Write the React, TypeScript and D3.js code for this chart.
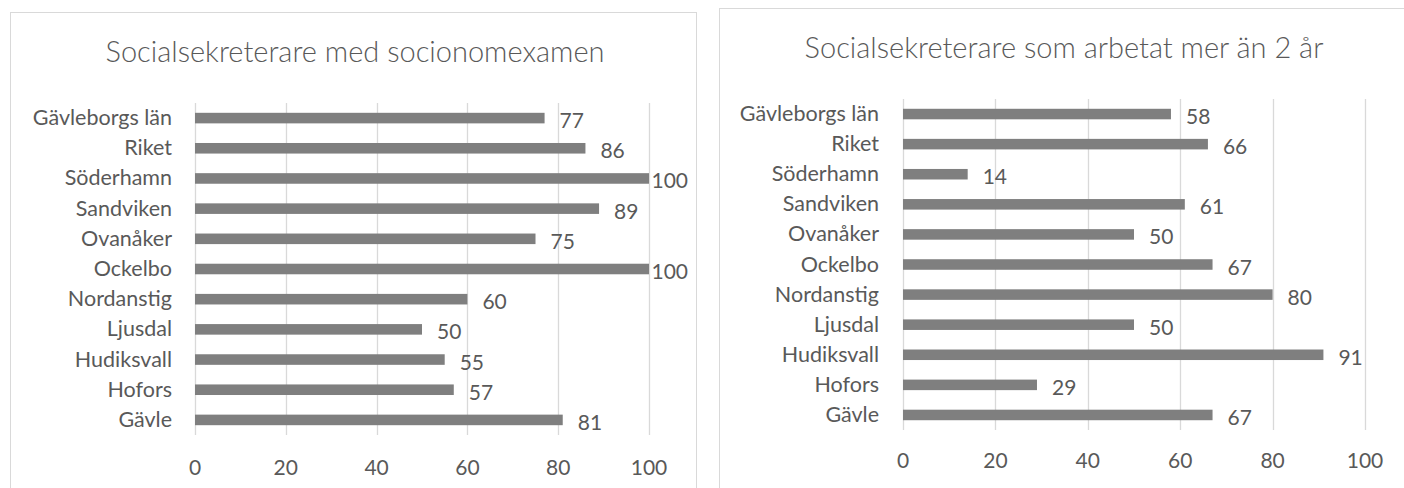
import React, { useEffect, useRef } from 'react';
import * as d3 from 'd3';

// categories, top to bottom as they appear in the chart
const categories = [
  'Gävleborgs län',
  'Riket',
  'Söderhamn',
  'Sandviken',
  'Ovanåker',
  'Ockelbo',
  'Nordanstig',
  'Ljusdal',
  'Hudiksvall',
  'Hofors',
  'Gävle',
];

const socionomexamen = [77, 86, 100, 89, 75, 100, 60, 50, 55, 57, 81];
const merAn2Ar = [58, 66, 14, 61, 50, 67, 80, 50, 91, 29, 67];

const xTicks = [0, 20, 40, 60, 80, 100];

const titles = [
  'Socialsekreterare med socionomexamen',
  'Socialsekreterare som arbetat mer än 2 år',
];

const FONT = 'Lato, "Open Sans", sans-serif';
const TEXT = '#595959';
const GRID = '#d9d9d9';
const BAR = '#7f7f7f';

type Panel = {
  box: [number, number, number, number];
  title: string;
  titleX: number;
  titleY: number;
  values: number[];
  xRange: [number, number];
  yRange: [number, number];
  catX: number;
  tickY: number;
  labelLimit: number;
};

const panels: Panel[] = [
  {
    box: [10.5, 12.5, 686, 500],
    title: titles[0],
    titleX: 355,
    titleY: 62,
    values: socionomexamen,
    xRange: [195, 649],
    yRange: [103, 435],
    catX: 172,
    tickY: 475,
    labelLimit: 688,
  },
  {
    box: [719.5, 8.5, 700, 500],
    title: titles[1],
    titleX: 1064,
    titleY: 58,
    values: merAn2Ar,
    xRange: [903, 1365],
    yRange: [99, 430],
    catX: 879,
    tickY: 468,
    labelLimit: 1400,
  },
];

const App = () => {
  const ref = useRef<SVGSVGElement>(null);

  useEffect(() => {
    const svg = d3.select(ref.current);
    svg.selectAll('*').remove();

    panels.forEach(p => {
      const g = svg
        .append('g')
        .attr('font-family', FONT)
        .attr('fill', TEXT);

      // chart area border
      g.append('rect')
        .attr('x', p.box[0])
        .attr('y', p.box[1])
        .attr('width', p.box[2])
        .attr('height', p.box[3])
        .attr('fill', '#fff')
        .attr('stroke', GRID)
        .attr('stroke-width', 1);

      g.append('text')
        .attr('x', p.titleX)
        .attr('y', p.titleY)
        .attr('text-anchor', 'middle')
        .attr('font-weight', 300)
        .attr('font-size', 29)
        .text(p.title);

      const x = d3.scaleLinear().domain([0, 100]).range(p.xRange);
      const y = d3
        .scaleBand()
        .domain(categories)
        .range(p.yRange)
        .paddingInner(0.65)
        .paddingOuter(0.325);

      // gridlines
      g.selectAll('line.grid')
        .data(xTicks)
        .join('line')
        .attr('class', 'grid')
        .attr('x1', d => Math.round(x(d)) + 0.5)
        .attr('x2', d => Math.round(x(d)) + 0.5)
        .attr('y1', p.yRange[0])
        .attr('y2', p.yRange[1])
        .attr('stroke', GRID)
        .attr('stroke-width', 1.3);

      // tick labels
      g.selectAll('text.tick')
        .data(xTicks)
        .join('text')
        .attr('class', 'tick')
        .attr('x', d => x(d))
        .attr('y', p.tickY)
        .attr('text-anchor', 'middle')
        .attr('font-size', 21)
        .text(d => d);

      // category labels
      g.selectAll('text.cat')
        .data(categories)
        .join('text')
        .attr('class', 'cat')
        .attr('x', p.catX)
        .attr('y', d => (y(d) as number) + y.bandwidth() / 2 + 7)
        .attr('text-anchor', 'end')
        .attr('font-size', 21.5)
        .text(d => d);

      // bars
      g.selectAll('rect.bar')
        .data(p.values)
        .join('rect')
        .attr('class', 'bar')
        .attr('x', x(0))
        .attr('y', (_, i) => y(categories[i]) as number)
        .attr('width', d => x(d) - x(0))
        .attr('height', y.bandwidth())
        .attr('fill', BAR);

      // value labels, pulled back inside the chart area when they would overflow
      g.selectAll('text.val')
        .data(p.values)
        .join('text')
        .attr('class', 'val')
        .attr('x', d => x(d) + 15)
        .attr('y', (_, i) => (y(categories[i]) as number) + y.bandwidth() / 2 + 10)
        .attr('font-size', 21)
        .text(d => d)
        .each(function (d) {
          const node = this as SVGTextElement;
          const w = node.getComputedTextLength();
          if (x(d) + 15 + w > p.labelLimit) {
            d3.select(node).attr('x', p.labelLimit).attr('text-anchor', 'end');
          }
        });
    });
  }, []);

  return (
    <svg
      ref={ref}
      width={1404}
      height={488}
      style={{ position: 'absolute', left: 0, top: 0, background: '#fff' }}
    />
  );
};

export default App;
